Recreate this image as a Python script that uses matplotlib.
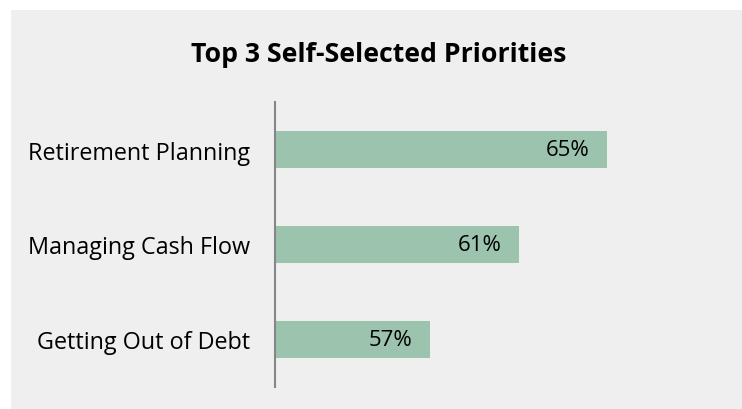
import matplotlib
matplotlib.use("Agg")
import matplotlib.pyplot as plt
from matplotlib.patches import Rectangle

categories = ["Retirement Planning", "Managing Cash Flow", "Getting Out of Debt"]
values = [65, 61, 57]
value_labels = ["65%", "61%", "57%"]

plt.rcParams["font.family"] = ["Open Sans", "DejaVu Sans"]

W, H = 742, 410
fig = plt.figure(figsize=(W / 100, H / 100), dpi=100)
fig.patch.set_facecolor("white")

# light grey panel behind the chart
fig.patches.append(Rectangle((11 / W, -0.05), 1.1, 1 - 11 / H + 0.05,
                             transform=fig.transFigure, facecolor="#efefef",
                             edgecolor="none", zorder=-5))

ax = fig.add_axes([275 / W, 1 - 388 / H, (718 - 275) / W, (388 - 103) / H])
ax.set_facecolor("none")
ax.set_zorder(2)

y = list(range(len(categories)))
bars = ax.barh(y, values, height=0.39, color="#9bc3ae", left=0)
ax.set_xlim(50, 70)
ax.set_ylim(2.5, -0.5)

for bar, lab in zip(bars, value_labels):
    ax.annotate(lab, (bar.get_width(), bar.get_y() + bar.get_height() / 2),
                xytext=(-12.5, 0), textcoords="offset points",
                ha="right", va="center", fontsize=16, color="black")

ax.set_yticks(y)
ax.set_yticklabels(categories, fontsize=16.8)
ax.tick_params(axis="y", length=0, pad=18)
ax.set_xticks([])
for s in ["top", "right", "bottom"]:
    ax.spines[s].set_visible(False)
ax.spines["left"].set_color("#868686")
ax.spines["left"].set_linewidth(1.5)

fig.text(379 / W, 1 - 55 / H, "Top 3 Self-Selected Priorities",
         ha="center", va="center", fontsize=19.2, fontweight="bold")

fig.savefig("out.png", dpi=100, facecolor=fig.get_facecolor())
